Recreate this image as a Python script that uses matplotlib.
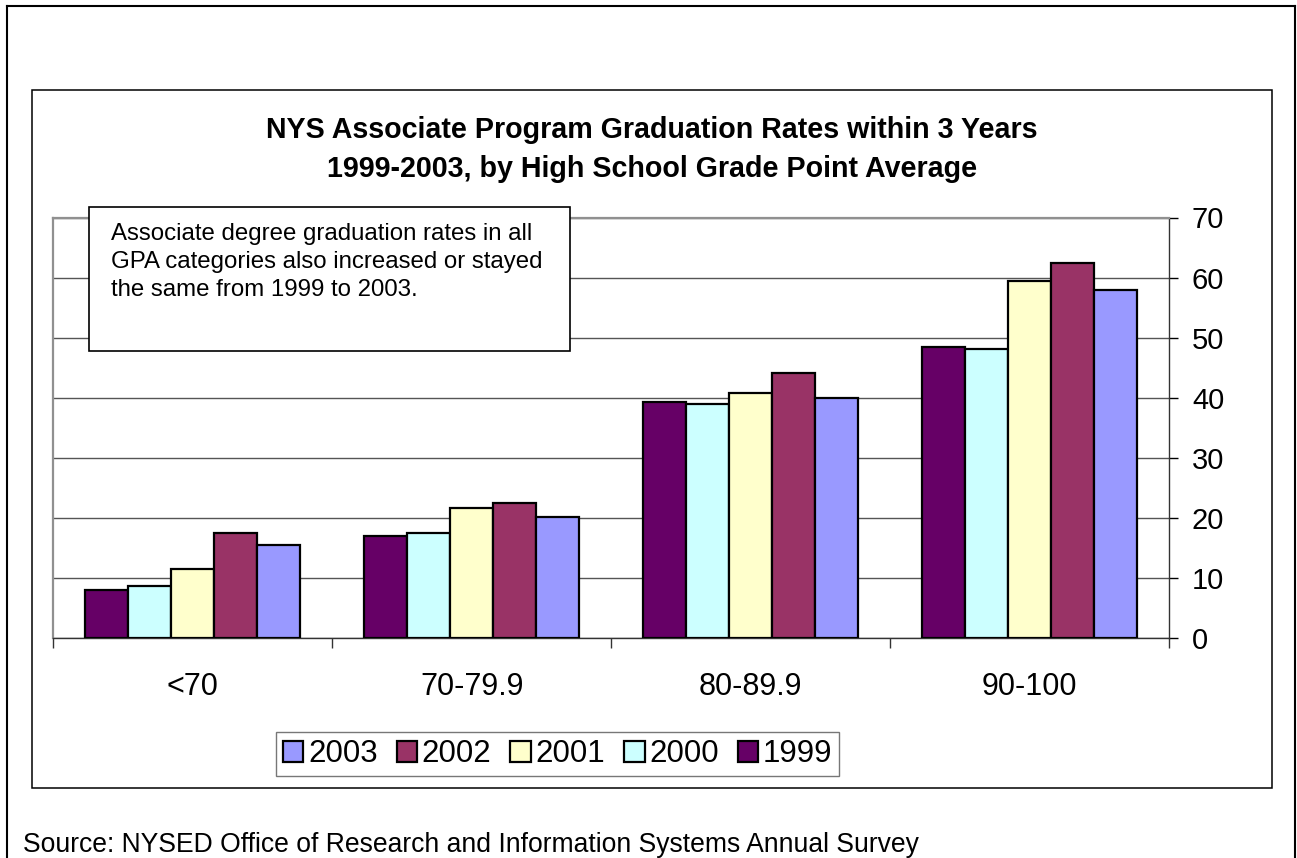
import matplotlib
matplotlib.use("Agg")
import matplotlib.pyplot as plt
from matplotlib.patches import Rectangle
from matplotlib.lines import Line2D
from matplotlib.ticker import FixedLocator, NullFormatter
import numpy as np

plt.rcParams['font.family'] = ['Liberation Sans', 'DejaVu Sans']

categories = ["<70", "70-79.9", "80-89.9", "90-100"]
years = ["1999", "2000", "2001", "2002", "2003"]
values = {
    "1999": [7.9, 16.9, 39.3, 48.4],
    "2000": [8.6, 17.4, 38.9, 48.1],
    "2001": [11.5, 21.6, 40.8, 59.5],
    "2002": [17.4, 22.5, 44.1, 62.4],
    "2003": [15.4, 20.1, 40.0, 57.9],
}
colors = {
    "1999": "#660066",
    "2000": "#CCFFFF",
    "2001": "#FFFFCC",
    "2002": "#993366",
    "2003": "#9999FF",
}
yticks = [0, 10, 20, 30, 40, 50, 60, 70]
title_lines = ["NYS Associate Program Graduation Rates within 3 Years",
               "1999-2003, by High School Grade Point Average"]
note_lines = ["Associate degree graduation rates in all",
              "GPA categories also increased or stayed",
              "the same from 1999 to 2003."]
source = "Source: NYSED Office of Research and Information Systems Annual Survey"

W, H = 1297, 858
fig = plt.figure(figsize=(W / 100, H / 100), dpi=100)
renderer = fig.canvas.get_renderer()

def fx(px):
    return px / W

def fy(py):
    return 1 - py / H

def fit_width(t, target_px):
    bb = t.get_window_extent(renderer)
    t.set_fontsize(t.get_fontsize() * target_px / bb.width)
    return t.get_fontsize()

# outer frame (top, left, right)
for xs, ys in [([fx(6.7), fx(1294.5)], [fy(5.7), fy(5.7)]),
               ([fx(6.7), fx(6.7)], [fy(5.7), 0]),
               ([fx(1294.5), fx(1294.5)], [fy(5.7), 0])]:
    fig.add_artist(Line2D(xs, ys, color="black", lw=1.5, transform=fig.transFigure))

# inner chart box
fig.add_artist(Rectangle((fx(31.7), fy(788)), fx(1271.7) - fx(31.7), fy(90) - fy(788),
                         transform=fig.transFigure, facecolor="none", edgecolor="black", lw=1.1))

L, R, T, B = 53.3, 1169, 217.5, 637.7
ax = fig.add_axes([fx(L), fy(B), fx(R) - fx(L), fy(T) - fy(B)])

n = len(years)
w = 1 / 6.5
x = np.arange(len(categories))
bars = {}
for i, yr in enumerate(years):
    bars[yr] = ax.bar(x + (i - (n - 1) / 2) * w, values[yr], width=w, color=colors[yr],
                      edgecolor="black", linewidth=1.6, label=yr, zorder=3)

ax.set_xlim(-0.5, len(categories) - 0.5)
ax.set_ylim(0, 70)
ax.yaxis.tick_right()
ax.set_yticks(yticks)
ax.tick_params(axis="y", direction="out", length=6.5, width=1, colors="black",
               labelsize=21, pad=10)
ax.yaxis.grid(True, color="#555555", lw=1, zorder=0)
ax.set_axisbelow(True)

ax.xaxis.set_major_locator(FixedLocator(np.arange(-0.5, len(categories), 1.0)))
ax.xaxis.set_major_formatter(NullFormatter())
ax.xaxis.set_minor_locator(FixedLocator(x))
ax.set_xticklabels(categories, minor=True)
ax.tick_params(axis="x", which="major", direction="out", length=7, width=1, colors="#333333")
ax.tick_params(axis="x", which="minor", length=0, labelsize=22, pad=25, labelcolor="black")

ax.spines["left"].set_color("#909090")
ax.spines["left"].set_linewidth(1.6)
ax.spines["top"].set_color("#909090")
ax.spines["top"].set_linewidth(1.6)
ax.spines["right"].set_color("#333333")
ax.spines["right"].set_linewidth(1.0)
ax.spines["bottom"].set_color("#333333")
ax.spines["bottom"].set_linewidth(1.0)

# title (two lines, baselines measured)
t1 = fig.text(fx(651.7), fy(138.3), title_lines[0], ha="center", va="baseline",
              fontsize=20, fontweight="bold")
tsize = fit_width(t1, 772)
t2 = fig.text(fx(651.7), fy(176.7), title_lines[1], ha="center", va="baseline",
              fontsize=tsize, fontweight="bold")

# annotation box
fig.add_artist(Rectangle((fx(89.3), fy(350.7)), fx(570) - fx(89.3), fy(207.3) - fy(350.7),
                         transform=fig.transFigure, facecolor="white", edgecolor="black",
                         lw=1.2, zorder=10))
probe = fig.text(0, 0, note_lines[1], fontsize=17)
nsize = fit_width(probe, 432)
probe.remove()
for line, base in zip(note_lines, [240.0, 268.0, 295.5]):
    fig.text(fx(111), fy(base), line, ha="left", va="baseline", fontsize=nsize, zorder=11)

# legend (reverse order)
handles = [bars[yr] for yr in years[::-1]]
leg = fig.legend(handles, years[::-1], loc="center", bbox_to_anchor=(fx(557.7), fy(754)),
                 ncol=5, fontsize=22.5, frameon=True, fancybox=False, edgecolor="#555555",
                 handlelength=0.66, handleheight=0.66, handletextpad=0.15,
                 columnspacing=0.6, borderpad=0.22, borderaxespad=0)
leg.get_frame().set_linewidth(1.0)

src = fig.text(fx(22.7), fy(852), source, ha="left", va="baseline", fontsize=18)
fit_width(src, 897)

fig.savefig("out.png", dpi=100)
